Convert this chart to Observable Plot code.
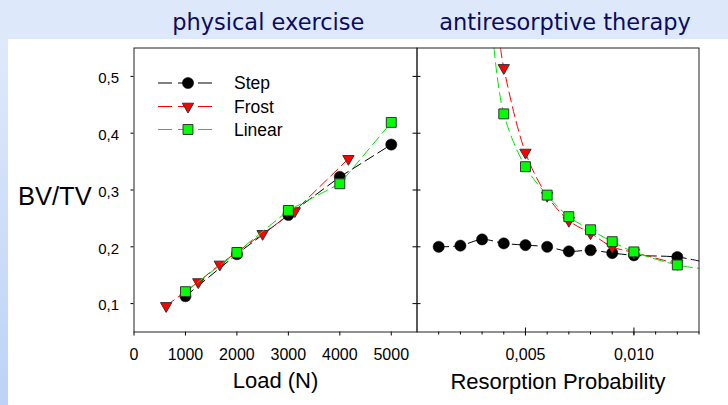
<!DOCTYPE html>
<html>
<head>
<meta charset="utf-8">
<script src="https://cdn.jsdelivr.net/npm/d3@7"></script>
<script src="https://cdn.jsdelivr.net/npm/@observablehq/plot@0.6"></script>
<style>
  html, body { margin: 0; padding: 0; }
  #root { position: relative; width: 728px; height: 405px; background: #dde9fb; overflow: hidden; font-family: "Liberation Sans", Arial, sans-serif; }
  #white { position: absolute; left: 8px; top: 39px; right: 0; bottom: 0; background: #fff; }
  #strip { position: absolute; left: 0; top: 39px; width: 8px; bottom: 0; background: linear-gradient(#dfe9fb, #bcd3f7); }
  .plot { position: absolute; top: 0; }
  #overlay { position: absolute; left: 0; top: 0; pointer-events: none; }
</style>
</head>
<body>
<div id="root">
  <div id="strip"></div>
  <div id="white"></div>
</div>
<script>
// ---------- data ----------
const panelTitles = ["physical exercise", "antiresorptive therapy"];
const yLabel = "BV/TV";
const xLabels = ["Load (N)", "Resorption Probability"];
const seriesNames = ["Step", "Frost", "Linear"];

// left panel: Load (N)
const loadStepX = [1000, 2000, 3000, 4000, 5000];
const loadStepY = [0.113, 0.187, 0.256, 0.323, 0.380];
const loadFrostX = [625, 1250, 1667, 2500, 3125, 4167];
const loadFrostY = [0.096, 0.138, 0.169, 0.223, 0.263, 0.355];
const loadLinearX = [1000, 2000, 3000, 4000, 5000];
const loadLinearY = [0.121, 0.190, 0.264, 0.311, 0.419];

// right panel: Resorption probability
const probStepX = [0.001, 0.002, 0.003, 0.004, 0.005, 0.006, 0.007, 0.008, 0.009, 0.010, 0.012];
const probStepY = [0.200, 0.202, 0.213, 0.206, 0.203, 0.200, 0.192, 0.194, 0.189, 0.185, 0.182];
const probFrostX = [0.004, 0.005, 0.006, 0.007, 0.008, 0.009, 0.010, 0.012];
const probFrostY = [0.515, 0.366, 0.290, 0.246, 0.224, 0.200, 0.190, 0.170];
const probLinearX = [0.004, 0.005, 0.006, 0.007, 0.008, 0.009, 0.010, 0.012];
const probLinearY = [0.434, 0.341, 0.291, 0.253, 0.230, 0.209, 0.191, 0.168];
// fitted curves continue beyond the markers
const probStepLineX = [...probStepX, 0.013];
const probStepLineY = [...probStepY, 0.175];
const probFrostLineX = [0.00385, ...probFrostX];
const probFrostLineY = [0.55, ...probFrostY];
const probLinearLineX = [0.00355, ...probLinearX, 0.013];
const probLinearLineY = [0.55, ...probLinearY, 0.162];

// ticks
const yTicks = [0.1, 0.2, 0.3, 0.4, 0.5];
const loadTicks = [0, 1000, 2000, 3000, 4000, 5000];
const probMajorTicks = [0.005, 0.010];
const probMinorTicks = [0.001, 0.002, 0.003, 0.004, 0.005, 0.006, 0.007, 0.008, 0.009, 0.010, 0.011, 0.012, 0.013];

// ---------- helpers ----------
const zip = (xs, ys) => xs.map((x, i) => ({x, y: ys[i]}));
const commaFmt = (digits) => (d) => d.toFixed(digits).replace(".", ",");
const colors = {Step: "#000000", Frost: "#ff0000", Linear: "#00e600"};
const fills = {Step: "#000000", Frost: "#ff0000", Linear: "#00ff00"};
const dash = "10,5";
const triDown = {
  draw(context, size) {
    const y = -Math.sqrt(size / (Math.sqrt(3) * 3));
    context.moveTo(0, -y * 2);
    context.lineTo(-Math.sqrt(3) * y, y);
    context.lineTo(Math.sqrt(3) * y, y);
    context.closePath();
  }
};
const dotOpts = {
  Step: {r: 5.6, fill: fills.Step, stroke: "#000", strokeWidth: 0.5},
  Frost: {r: 4.2, symbol: triDown, fill: fills.Frost, stroke: "#333", strokeWidth: 1},
  Linear: {r: 5.6, symbol: "square", fill: fills.Linear, stroke: "#333", strokeWidth: 1}
};
function seriesMarks(lineData, dotData, name, curve) {
  return [
    Plot.line(lineData, {x: "x", y: "y", stroke: colors[name], strokeWidth: 1, strokeDasharray: dash, curve}),
    Plot.dot(dotData, {x: "x", y: "y", ...dotOpts[name]})
  ];
}

const H = 405, TOP = 47.5, BOTTOM = 73.5;
const yScale = {domain: [0.05, 0.55]};
const style = {background: "transparent", fontFamily: "'Liberation Sans', Arial, sans-serif", color: "#000", overflow: "visible"};

// ---------- left panel ----------
const left = Plot.plot({
  width: 420, height: H,
  marginLeft: 133.5, marginRight: 3.5, marginTop: TOP, marginBottom: BOTTOM,
  x: {domain: [0, 5500]},
  y: yScale,
  style,
  marks: [
    Plot.axisY(yTicks, {anchor: "left", tickSize: 3, tickFormat: () => "", label: null}),
    Plot.axisY(yTicks, {anchor: "left", tickSize: 0, tickPadding: 15, tickFormat: commaFmt(1), fontSize: 15, dy: 2, label: null}),
    Plot.axisX(loadTicks, {anchor: "bottom", tickSize: 4, tickPadding: 13, tickFormat: d => String(d), fontSize: 16, label: null}),
    Plot.text([xLabels[0]], {frameAnchor: "bottom", lineAnchor: "middle", dy: 49, text: d => d, fontSize: 22}),
    ...seriesMarks(zip(loadStepX, loadStepY), zip(loadStepX, loadStepY), "Step", "linear"),
    ...seriesMarks(zip(loadFrostX, loadFrostY), zip(loadFrostX, loadFrostY), "Frost", "linear"),
    ...seriesMarks(zip(loadLinearX, loadLinearY), zip(loadLinearX, loadLinearY), "Linear", "linear"),
    Plot.frame({stroke: "#222", strokeWidth: 1})
  ]
});
left.classList.add("plot");
left.style.left = "0px";

// ---------- right panel ----------
const right = Plot.plot({
  width: 328, height: H,
  marginLeft: 16.5, marginRight: 29.5, marginTop: TOP, marginBottom: BOTTOM,
  x: {domain: [0, 0.013]},
  y: yScale,
  style,
  marks: [
    Plot.axisY(yTicks, {anchor: "left", tickSize: 8, dx: 4, tickFormat: () => "", label: null}),
    Plot.axisX(probMinorTicks, {anchor: "bottom", tickSize: 3, tickFormat: () => "", label: null}),
    Plot.axisX(probMajorTicks, {anchor: "bottom", tickSize: 8, dy: -4, tickFormat: () => "", label: null}),
    Plot.axisX(probMajorTicks, {anchor: "bottom", tickSize: 0, tickPadding: 17, tickFormat: commaFmt(3), fontSize: 16, label: null}),
    Plot.text([xLabels[1]], {frameAnchor: "bottom", lineAnchor: "middle", dy: 49.5, text: d => d, fontSize: 22}),
    ...seriesMarks(zip(probStepLineX, probStepLineY), zip(probStepX, probStepY), "Step", "catmull-rom"),
    ...seriesMarks(zip(probFrostLineX, probFrostLineY), zip(probFrostX, probFrostY), "Frost", "catmull-rom"),
    ...seriesMarks(zip(probLinearLineX, probLinearLineY), zip(probLinearX, probLinearY), "Linear", "catmull-rom"),
    Plot.frame({stroke: "#222", strokeWidth: 1})
  ]
});
right.classList.add("plot");
right.style.left = "400px";

const root = document.getElementById("root");
root.appendChild(left);
root.appendChild(right);

// ---------- overlay: titles, y label, legend ----------
const svg = d3.select(root).append("svg").attr("id", "overlay").attr("width", 728).attr("height", 405);
const titleX = [268.3, 565];
svg.selectAll("text.title").data(panelTitles).join("text")
  .attr("class", "title")
  .attr("x", (d, i) => titleX[i]).attr("y", 30)
  .attr("text-anchor", "middle")
  .attr("font-family", "'DejaVu Sans', sans-serif")
  .attr("font-size", 22.5)
  .attr("fill", "#0b0b61")
  .text(d => d);
svg.append("text")
  .attr("x", 18).attr("y", 205)
  .attr("font-family", "'Liberation Sans', Arial, sans-serif")
  .attr("font-size", 25.5)
  .attr("fill", "#000")
  .text(yLabel);

const legY = [83, 106.5, 129.5];
const symbolFor = {Step: d3.symbolCircle, Frost: triDown, Linear: d3.symbolSquare};
const legend = svg.append("g");
seriesNames.forEach((name, i) => {
  const g = legend.append("g").attr("transform", `translate(0,${legY[i]})`);
  g.append("line").attr("x1", 158).attr("x2", 213).attr("y1", 0).attr("y2", 0)
    .attr("stroke", colors[name]).attr("stroke-width", 1).attr("stroke-dasharray", "14,6");
  const o = dotOpts[name];
  g.append("path").attr("transform", "translate(188,0)")
    .attr("d", d3.symbol(symbolFor[name], o.r * o.r * Math.PI)())
    .attr("fill", o.fill).attr("stroke", o.stroke).attr("stroke-width", o.strokeWidth);
  g.append("text").attr("x", 234).attr("y", 0).attr("dy", "0.36em")
    .attr("font-family", "'Liberation Sans', Arial, sans-serif")
    .attr("font-size", 17.5).attr("fill", "#000")
    .text(name);
});
</script>
</body>
</html>
